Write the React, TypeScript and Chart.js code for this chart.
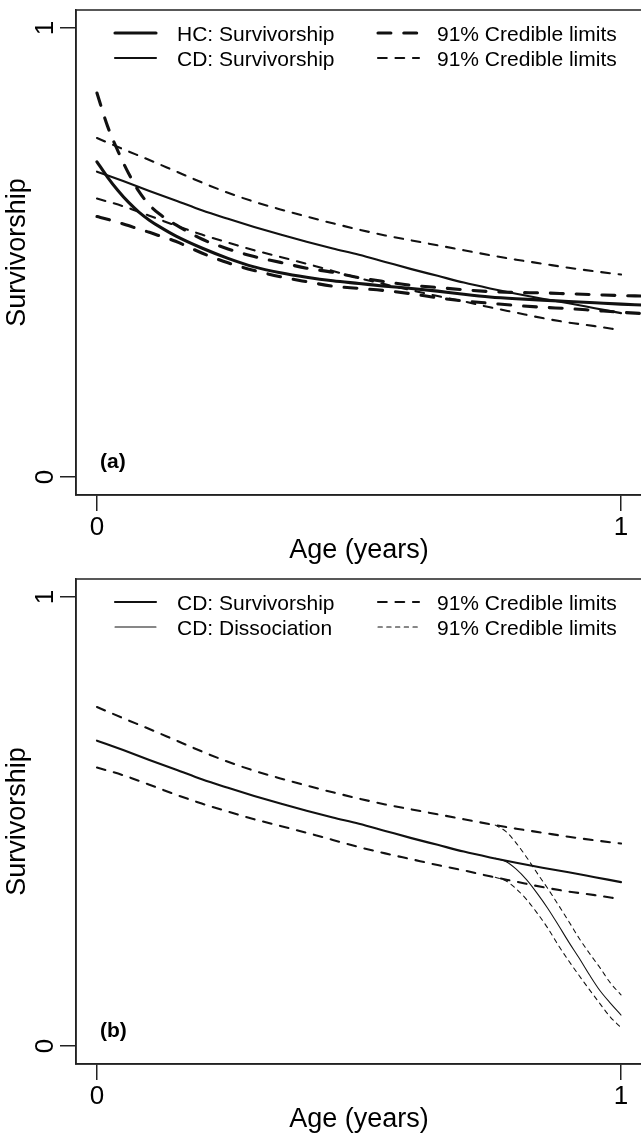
import React, { useEffect, useRef } from "react";
import { Chart, registerables } from "chart.js";

Chart.register(...registerables);

// ---------------- Data ----------------
// Panel (a)
const ageHC = [0, 0.02, 0.04, 0.06, 0.08, 0.1, 0.12, 0.15, 0.2, 0.25, 0.3, 0.35, 0.4, 0.45, 0.5, 0.55, 0.6, 0.65, 0.7, 0.75, 0.8, 0.85, 0.9, 0.95, 1.0, 1.04];
const hcSurvivorship = [0.702, 0.668, 0.638, 0.612, 0.590, 0.572, 0.557, 0.537, 0.510, 0.487, 0.468, 0.455, 0.445, 0.437, 0.431, 0.425, 0.420, 0.414, 0.407, 0.401, 0.397, 0.394, 0.391, 0.388, 0.385, 0.383];
const hcUpper = [0.855, 0.782, 0.726, 0.677, 0.636, 0.606, 0.585, 0.562, 0.530, 0.508, 0.491, 0.478, 0.465, 0.456, 0.444, 0.435, 0.427, 0.422, 0.417, 0.413, 0.411, 0.410, 0.408, 0.406, 0.404, 0.403];
const hcLower = [0.580, 0.574, 0.567, 0.560, 0.552, 0.545, 0.537, 0.525, 0.499, 0.477, 0.460, 0.446, 0.435, 0.425, 0.420, 0.415, 0.408, 0.399, 0.392, 0.387, 0.382, 0.378, 0.375, 0.371, 0.367, 0.364];

const ageCD = [0, 0.05, 0.1, 0.15, 0.2, 0.25, 0.3, 0.35, 0.4, 0.45, 0.5, 0.55, 0.6, 0.65, 0.7, 0.75, 0.8, 0.85, 0.9, 0.95, 1.0];
const cdSurvivorship = [0.680, 0.659, 0.637, 0.616, 0.594, 0.575, 0.557, 0.540, 0.524, 0.509, 0.495, 0.479, 0.463, 0.448, 0.433, 0.420, 0.408, 0.397, 0.387, 0.376, 0.365];
const cdUpper = [0.755, 0.730, 0.706, 0.681, 0.656, 0.633, 0.613, 0.596, 0.580, 0.565, 0.551, 0.538, 0.527, 0.516, 0.505, 0.494, 0.484, 0.475, 0.466, 0.458, 0.451];
const cdLower = [0.620, 0.603, 0.582, 0.560, 0.540, 0.522, 0.505, 0.490, 0.475, 0.459, 0.443, 0.429, 0.416, 0.403, 0.391, 0.378, 0.366, 0.354, 0.344, 0.336, 0.327];

// Panel (b) dissociation
const ageDiss = [0.76, 0.78, 0.80, 0.82, 0.84, 0.86, 0.88, 0.90, 0.92, 0.94, 0.96, 0.98, 1.0];
const cdDissociation = [0.418, 0.411, 0.394, 0.370, 0.340, 0.307, 0.270, 0.232, 0.196, 0.158, 0.123, 0.095, 0.069];
const dissUpper = [0.492, 0.478, 0.452, 0.420, 0.385, 0.351, 0.315, 0.278, 0.240, 0.206, 0.174, 0.140, 0.114];
const dissLower = [0.376, 0.368, 0.350, 0.326, 0.296, 0.263, 0.225, 0.190, 0.157, 0.125, 0.094, 0.064, 0.041];

// Axes / labels
const xTicks = [0, 1];
const xTickLabels = ["0", "1"];
const yTicks = [0, 1];
const yTickLabels = ["0", "1"];
const xTitle = "Age (years)";
const yTitle = "Survivorship";
const legendA = ["HC: Survivorship", "CD: Survivorship", "91% Credible limits", "91% Credible limits"];
const legendB = ["CD: Survivorship", "CD: Dissociation", "91% Credible limits", "91% Credible limits"];
const panelLabels = ["(a)", "(b)"];

// ---------------- Styling ----------------
const FONT = '"Liberation Sans", Arial, Helvetica, sans-serif';
const INK = "#111";
const FRAME = "#222";
const CANVAS_W = 650;
const CANVAS_H = 567;

const pts = (xs: number[], ys: number[]) => xs.map((x, i) => ({ x, y: ys[i] }));

const lineDs = (data: any[], width: number, dashed: boolean) => ({
  data,
  borderColor: INK,
  borderWidth: width,
  borderDash: dashed ? [4 * width * 1.04, 4 * width * 1.04] : [],
  borderCapStyle: "round",
  borderJoinStyle: "round",
  pointRadius: 0,
  fill: false,
  cubicInterpolationMode: "monotone",
});

const rPlugin = {
  id: "rstyle",
  afterDraw(chart: any, _args: any, opts: any) {
    const { ctx, chartArea: ca } = chart;
    const ys = chart.scales.y;
    ctx.save();
    // frame box
    ctx.strokeStyle = FRAME;
    ctx.lineWidth = 1.5;
    ctx.setLineDash([]);
    ctx.strokeRect(ca.left, ca.top, ca.right - ca.left, ca.bottom - ca.top);

    // rotated y tick labels
    ctx.fillStyle = "#000";
    ctx.font = `26px ${FONT}`;
    ctx.textAlign = "center";
    ctx.textBaseline = "alphabetic";
    yTicks.forEach((v, i) => {
      const py = ys.getPixelForValue(v);
      ctx.save();
      ctx.translate(ca.left - 23, py);
      ctx.rotate(-Math.PI / 2);
      ctx.fillText(yTickLabels[i], 0, 0);
      ctx.restore();
    });

    // legend (2 columns x 2 rows)
    const items = opts.items as { label: string; ds: number; col: number; row: number }[];
    ctx.font = `21px ${FONT}`;
    ctx.textAlign = "left";
    items.forEach((it) => {
      const ds = chart.data.datasets[it.ds];
      const colSample = it.col === 0 ? 39 : 302;
      const colText = it.col === 0 ? 101 : 361;
      const ry = ca.top + 23 + it.row * 25;
      ctx.save();
      ctx.strokeStyle = ds.borderColor;
      ctx.lineWidth = ds.borderWidth;
      ctx.lineCap = "round";
      ctx.setLineDash(ds.borderDash || []);
      ctx.beginPath();
      ctx.moveTo(ca.left + colSample, ry);
      ctx.lineTo(ca.left + colSample + 41, ry);
      ctx.stroke();
      ctx.restore();
      ctx.fillStyle = "#000";
      ctx.fillText(it.label, ca.left + colText, ry + 7.5);
    });

    // panel label
    ctx.font = `bold 21px ${FONT}`;
    ctx.fillText(opts.panelLabel, ca.left + 24, ys.getPixelForValue(0) - 9);
    ctx.restore();
  },
};

const makeConfig = (datasets: any[], items: any[], panelLabel: string) => ({
  type: "line",
  data: { datasets },
  plugins: [rPlugin],
  options: {
    responsive: false,
    animation: false,
    events: [],
    layout: { padding: { top: 10, right: CANVAS_W - 642, bottom: 0, left: 0 } },
    plugins: {
      legend: { display: false },
      tooltip: { enabled: false },
      rstyle: { items, panelLabel },
    },
    scales: {
      x: {
        type: "linear",
        min: -0.04,
        max: 1.04,
        afterBuildTicks: (s: any) => {
          s.ticks = xTicks.map((v) => ({ value: v }));
        },
        afterFit: (s: any) => {
          s.height = 72;
        },
        ticks: {
          padding: 1,
          color: "#000",
          font: { family: FONT, size: 26 },
          maxRotation: 0,
          minRotation: 0,
          callback: (v: number) => xTickLabels[xTicks.indexOf(v)] ?? "",
        },
        grid: { drawOnChartArea: false, drawTicks: true, tickLength: 16, color: FRAME, lineWidth: 1.5 },
        border: { display: true, color: FRAME, width: 1.5 },
        title: { display: true, text: xTitle, color: "#000", font: { family: FONT, size: 27 }, padding: { top: 0, bottom: 0 } },
      },
      y: {
        type: "linear",
        min: -0.04,
        max: 1.04,
        afterBuildTicks: (s: any) => {
          s.ticks = yTicks.map((v) => ({ value: v }));
        },
        afterFit: (s: any) => {
          s.width = 76;
        },
        ticks: { display: false },
        grid: { drawOnChartArea: false, drawTicks: true, tickLength: 16, color: FRAME, lineWidth: 1.5 },
        border: { display: true, color: FRAME, width: 1.5 },
        title: { display: true, text: yTitle, color: "#000", font: { family: FONT, size: 27 }, padding: { top: 1, bottom: 0 } },
      },
    },
  },
});

const configA = () =>
  makeConfig(
    [
      lineDs(pts(ageHC, hcSurvivorship), 3.1, false),
      lineDs(pts(ageCD, cdSurvivorship), 2.1, false),
      lineDs(pts(ageHC, hcUpper), 3.1, true),
      lineDs(pts(ageHC, hcLower), 3.1, true),
      lineDs(pts(ageCD, cdUpper), 2.1, true),
      lineDs(pts(ageCD, cdLower), 2.1, true),
    ],
    [
      { label: legendA[0], ds: 0, col: 0, row: 0 },
      { label: legendA[1], ds: 1, col: 0, row: 1 },
      { label: legendA[2], ds: 2, col: 1, row: 0 },
      { label: legendA[3], ds: 4, col: 1, row: 1 },
    ],
    panelLabels[0]
  );

const configB = () =>
  makeConfig(
    [
      lineDs(pts(ageCD, cdSurvivorship), 2.1, false),
      lineDs(pts(ageDiss, cdDissociation), 1.05, false),
      lineDs(pts(ageCD, cdUpper), 2.1, true),
      lineDs(pts(ageCD, cdLower), 2.1, true),
      lineDs(pts(ageDiss, dissUpper), 1.05, true),
      lineDs(pts(ageDiss, dissLower), 1.05, true),
    ],
    [
      { label: legendB[0], ds: 0, col: 0, row: 0 },
      { label: legendB[1], ds: 1, col: 0, row: 1 },
      { label: legendB[2], ds: 2, col: 1, row: 0 },
      { label: legendB[3], ds: 4, col: 1, row: 1 },
    ],
    panelLabels[1]
  );

function Panel({ top, config }: { top: number; config: () => any }) {
  const ref = useRef<HTMLCanvasElement>(null);
  useEffect(() => {
    const chart = new Chart(ref.current as HTMLCanvasElement, config() as any);
    return () => chart.destroy();
  }, []);
  return (
    <canvas
      ref={ref}
      width={CANVAS_W}
      height={CANVAS_H}
      style={{ position: "absolute", left: 0, top, width: CANVAS_W, height: CANVAS_H }}
    />
  );
}

export default function App() {
  useEffect(() => {
    document.body.style.margin = "0";
    document.body.style.overflow = "hidden";
  }, []);
  return (
    <div
      style={{
        position: "absolute",
        left: 0,
        top: 0,
        width: 641,
        height: 1134,
        overflow: "hidden",
        background: "#fff",
      }}
    >
      <Panel top={0} config={configA} />
      <Panel top={569} config={configB} />
    </div>
  );
}
